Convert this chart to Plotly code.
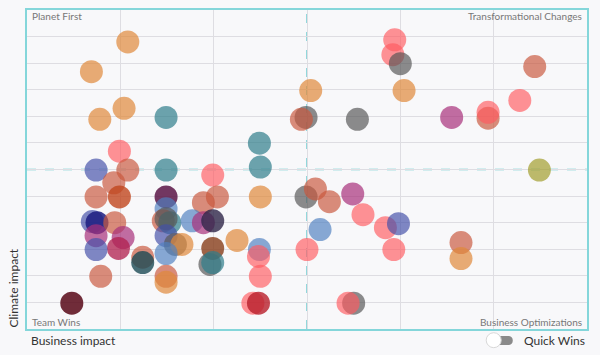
import plotly.graph_objects as go

# ---- data (business impact, climate impact, group) ----
business_impact = [
    1.08, 0.69, 1.04, 0.78, 1.49, 0.99, 2.49, 2.50, 0.74, 1.08, 1.49, 3.04, 2.99, 2.94, 3.54,
    3.94, 3.92, 4.00, 4.04, 4.55, 4.94, 4.94, 5.28, 5.44, 5.49,
    0.93, 0.74, 0.99, 0.70, 0.75, 0.94, 0.74, 1.03, 0.98, 0.74, 1.24, 1.24, 0.79, 0.48,
    1.99, 1.89, 2.04, 1.49, 1.49, 1.46, 1.53, 1.49, 1.77, 1.89, 1.99, 1.49, 1.59, 1.66,
    1.49, 1.99, 1.96, 1.99, 2.25, 2.49, 2.48, 2.50, 1.49, 1.49, 2.42, 2.48, 2.50, 2.99,
    3.09, 3.24, 3.49, 3.60, 3.14, 3.84, 3.98, 3.00, 3.93, 3.50, 3.44, 4.65, 4.65,
]
climate_impact = [
    10.80, 9.68, 8.30, 7.89, 7.96, 6.69, 6.99, 6.09, 5.98, 5.98, 5.98, 8.97, 7.96, 7.89, 7.89,
    10.88, 10.32, 9.98, 8.97, 7.96, 7.93, 8.15, 8.60, 9.87, 5.98,
    5.50, 4.97, 4.97, 4.04, 4.00, 4.00, 3.51, 3.44, 3.03, 2.99, 2.70, 2.50, 1.98, 0.97,
    5.79, 4.75, 4.97, 4.97, 4.52, 4.07, 4.00, 4.15, 4.07, 4.00, 4.07, 3.51, 3.18, 3.18,
    2.84, 3.03, 2.43, 2.50, 3.33, 2.99, 2.73, 1.98, 1.98, 1.76, 0.97, 0.97, 4.97, 4.97,
    5.27, 4.79, 5.08, 4.30, 3.74, 3.81, 3.96, 2.99, 2.99, 0.97, 0.97, 3.25, 2.65,
]
group = [
    "orange", "orange", "orange", "orange", "teal", "red", "teal", "teal", "bluepurple", "brown",
    "teal", "orange", "gray", "brown", "gray",
    "red", "red", "gray", "orange", "magenta", "brown", "red", "red", "brown", "olive",
    "brown", "brown", "darkorange", "bluepurple", "navy", "brown", "magenta", "magenta",
    "crimsonpink", "bluepurple", "brown", "darkteal", "brown", "maroon",
    "red", "brown", "brown", "plum", "steelblue", "brown", "teal", "gray", "steelblue",
    "magenta", "darkslate", "bluepurple", "gray", "orange",
    "steelblue", "darkbrown", "gray", "teal", "orange", "steelblue", "red", "red", "brown",
    "orange", "red", "crimson", "orange", "gray",
    "brown", "brown", "magenta", "red", "steelblue", "red", "bluepurple", "red", "red",
    "gray", "red", "brown", "orange",
]

group_colors = {
    "orange": "rgba(224,137,58,0.70)",
    "teal": "rgba(47,125,138,0.70)",
    "red": "rgba(255,90,95,0.66)",
    "gray": "rgba(85,85,85,0.68)",
    "brown": "rgba(201,87,60,0.68)",
    "bluepurple": "rgba(68,80,168,0.68)",
    "steelblue": "rgba(80,128,192,0.68)",
    "navy": "rgba(28,28,128,0.85)",
    "maroon": "rgba(92,15,30,0.88)",
    "plum": "rgba(90,21,69,0.85)",
    "magenta": "rgba(168,48,122,0.70)",
    "olive": "rgba(163,158,46,0.70)",
    "darkorange": "rgba(192,70,30,0.80)",
    "crimson": "rgba(184,30,42,0.80)",
    "crimsonpink": "rgba(176,32,79,0.76)",
    "darkteal": "rgba(28,74,85,0.80)",
    "darkslate": "rgba(46,37,72,0.80)",
    "darkbrown": "rgba(138,66,32,0.82)",
}

x_range = [0, 6]
y_range = [0, 12]
x_mid = 3
y_mid = 6

fig = go.Figure()
fig.add_trace(go.Scatter(
    x=business_impact, y=climate_impact, mode="markers",
    marker=dict(size=23, color=[group_colors[g] for g in group], line=dict(width=0)),
    hoverinfo="x+y", showlegend=False,
))

dash_col = "#5cc6cc"
fig.add_shape(type="line", xref="x", yref="paper", x0=x_mid, x1=x_mid, y0=0, y1=1,
              line=dict(color=dash_col, width=1.3, dash="dash"), layer="below")
fig.add_shape(type="line", xref="paper", yref="y", x0=0, x1=1, y0=y_mid, y1=y_mid,
              line=dict(color=dash_col, width=1.3, dash="dash"), layer="below")

font_family = "Lato, 'Open Sans', sans-serif"
corner = dict(size=10, color="#777777", family=font_family)
fig.add_annotation(text="Planet First", xref="paper", yref="paper", x=0.006, y=1.007,
                   xanchor="left", yanchor="top", showarrow=False, font=corner)
fig.add_annotation(text="Transformational Changes", xref="paper", yref="paper", x=0.994, y=1.007,
                   xanchor="right", yanchor="top", showarrow=False, font=corner)
fig.add_annotation(text="Team Wins", xref="paper", yref="paper", x=0.006, y=-0.003,
                   xanchor="left", yanchor="bottom", showarrow=False, font=corner)
fig.add_annotation(text="Business Optimizations", xref="paper", yref="paper", x=0.994, y=-0.003,
                   xanchor="right", yanchor="bottom", showarrow=False, font=corner)

title_font = dict(size=12, color="#333333", family=font_family)
fig.add_annotation(text="Business impact", xref="paper", yref="paper", x=0.004, y=-0.006,
                   xanchor="left", yanchor="top", showarrow=False, font=title_font)
fig.add_annotation(text="Climate impact", xref="paper", yref="paper", x=-0.008, y=-0.003,
                   xanchor="right", yanchor="bottom", textangle=-90, showarrow=False, font=title_font)
fig.add_annotation(text="Quick Wins", xref="paper", yref="paper", x=1.0, y=-0.006,
                   xanchor="right", yanchor="top", showarrow=False, font=title_font)

# toggle switch (decoration)
fig.add_shape(type="path", xref="paper", yref="paper",
              path="M 0.8375,-0.0218 L 0.8607,-0.0218 C 0.8697,-0.0218 0.8697,-0.0498 0.8607,-0.0498 "
                   "L 0.8375,-0.0498 C 0.8285,-0.0498 0.8285,-0.0218 0.8375,-0.0218 Z",
              fillcolor="#8a8a8a", line=dict(width=0))
fig.add_shape(type="circle", xref="paper", yref="paper",
              x0=0.8200, x1=0.8468, y0=-0.0585, y1=-0.0117,
              fillcolor="#ffffff", line=dict(color="#d8d8d8", width=1))

axis_common = dict(showgrid=True, gridcolor="#dedde2", gridwidth=1, zeroline=False,
                   showticklabels=False, ticks="", showline=True, linecolor="#84d6da",
                   linewidth=2, mirror=True)
fig.update_xaxes(range=x_range, dtick=1, tick0=0, **axis_common)
fig.update_yaxes(range=y_range, dtick=1, tick0=0, **axis_common)

fig.update_layout(
    width=600, height=355,
    margin=dict(l=27, r=13, t=8, b=26),
    paper_bgcolor="#f8f8fa", plot_bgcolor="#f8f8fa",
    font=dict(family=font_family),
    showlegend=False,
)

fig.write_html(
    "out.html",
    config={"displayModeBar": False},
    post_script="document.body.style.margin='0px';document.body.style.overflow='hidden';",
)
